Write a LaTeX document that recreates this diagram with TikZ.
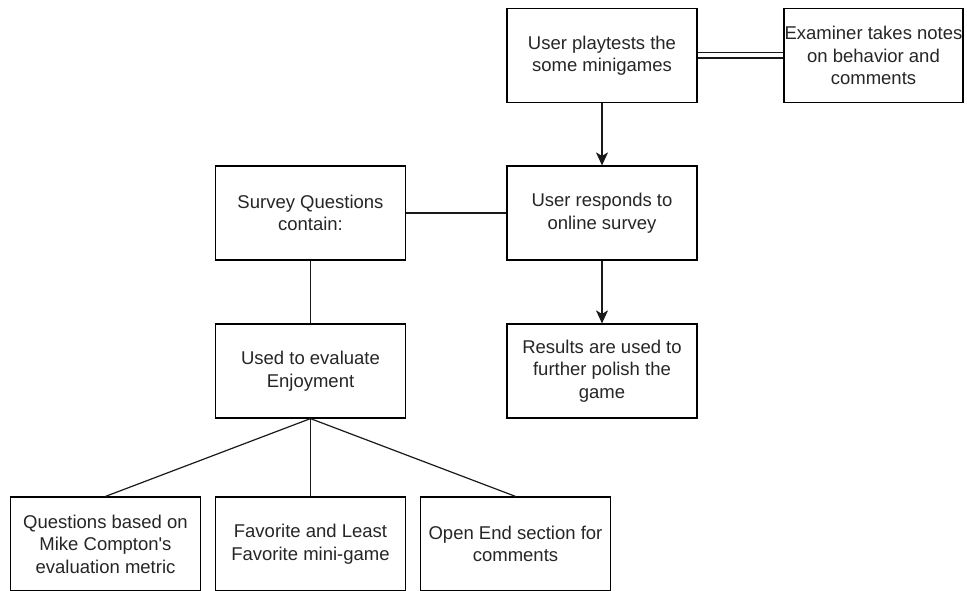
\documentclass[tikz,border=0pt]{standalone}
\usepackage{fontspec}
\setmainfont{Liberation Sans}
\usetikzlibrary{arrows.meta}

\tikzset{
    box/.style={draw=black, line width=1.2pt, fill=white, minimum width=190pt, minimum height=94pt,
        inner sep=0pt, align=center, text=black!85,
        font=\fontsize{18.5pt}{22.5pt}\selectfont},
    link/.style={line width=1.2pt, draw=black!90},
    tip/.style={link, -{Stealth[length=13pt, width=12pt, inset=3.5pt]}}
}

\begin{document}
\begin{tikzpicture}[x=1pt, y=-1pt]
            \useasboundingbox (0,0) rectangle (967,591);

            \node[box] (play) at (602,55.5) {User playtests the\\some minigames};
            \node[box, minimum width=179pt] (exam) at (873.5,55.5) {Examiner takes notes\\on behavior and\\comments};
            \node[box] (survey) at (310.5,213) {Survey Questions\\contain:};
            \node[box] (respond) at (602,213) {User responds to\\online survey};
            \node[box] (used) at (310.5,371) {Used to evaluate\\Enjoyment};
            \node[box] (results) at (602,371) {Results are used to\\further polish the\\game};
            \node[box] (metric) at (105.5,544) {Questions based on\\Mike Compton\textquotesingle s\\evaluation metric};
            \node[box] (fav) at (310.5,544) {Favorite and Least\\Favorite mini-game};
            \node[box] (open) at (515.5,544) {Open End section for\\comments};

            \draw[link, double, double distance=4pt] (play) -- (exam);
            \draw[tip] (play) -- (respond);
            \draw[tip] (respond) -- (results);
            \draw[link] (survey) -- (respond);
            \draw[link] (survey) -- (used);
            \draw[link] (used.south) -- (metric.north);
            \draw[link] (used.south) -- (fav.north);
            \draw[link] (used.south) -- (open.north);
        \end{tikzpicture}
\end{document}
